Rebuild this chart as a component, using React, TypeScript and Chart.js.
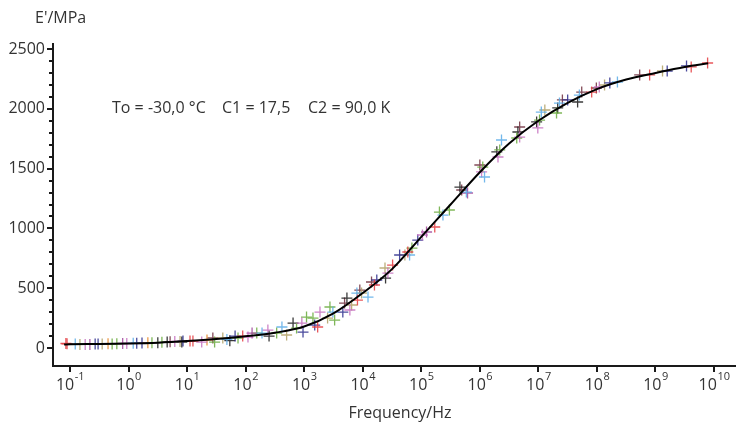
import React, { useEffect, useRef } from "react";
import { Chart, registerables } from "chart.js";

Chart.register(...registerables);

// Master curve (log10 frequency / E' in MPa)
const curveLogF = [-1.1, -1, -0.5, 0, 0.5, 1, 1.5, 2, 2.5, 3, 3.5, 4, 4.5, 5, 5.5, 6, 6.5, 7, 7.5, 8, 8.5, 9, 9.5, 9.9];
const curveE = [30, 32, 34, 38, 45, 58, 75, 98, 128, 180, 290, 460, 660, 930, 1200, 1470, 1710, 1900, 2050, 2165, 2245, 2300, 2350, 2380];

// Measured points, grouped by marker colour (log10 frequency / E')
const redLogF = [-1.07, -1.05, 1.05, 1.10, 1.95, 3.23, 3.91, 4.20, 4.51, 4.77, 5.23, 7.91, 8.90, 9.61, 9.89];
const redE = [38, 35, 59, 59, 100, 176, 401, 527, 694, 803, 1012, 2140, 2283, 2350, 2383];

const lightBlueLogF = [-0.91, 0.08, 1.68, 2.28, 2.62, 3.49, 3.90, 4.09, 4.80, 5.37, 5.77, 6.08, 6.37, 7.05, 7.36, 7.70, 8.35];
const lightBlueE = [33, 40, 72, 125, 176, 301, 460, 426, 778, 1112, 1304, 1430, 1739, 1973, 2048, 2115, 2224];

const pinkLogF = [-0.74, -0.03, 0.79, 1.25, 2.04, 2.38, 2.96, 3.27, 3.78, 4.43, 5.02, 6.03, 6.31, 6.68, 6.99, 8.04];
const pinkE = [30, 38, 55, 50, 92, 150, 209, 301, 318, 627, 945, 1472, 1597, 1764, 1840, 2182];

const magentaLogF = [-0.66, -0.10, 2.11, 5.09, 5.79];
const magentaE = [30, 38, 125, 970, 1296];

const navyLogF = [-0.57, -0.52, 0.14, 0.23, 0.93, 1.82, 2.98, 3.18, 3.66, 4.24, 4.63, 4.94, 7.50, 8.22, 9.20, 9.53];
const navyE = [33, 33, 40, 42, 58, 100, 134, 192, 301, 569, 778, 903, 2074, 2216, 2316, 2358];

const greenLogF = [-0.28, -0.20, 0.40, 0.57, 1.47, 1.87, 2.19, 2.53, 2.87, 3.04, 3.15, 3.44, 3.52, 4.84, 5.31, 5.48, 6.05, 6.34, 6.63, 7.02, 7.31];
const greenE = [33, 35, 45, 48, 50, 84, 125, 125, 167, 259, 251, 343, 234, 836, 1137, 1154, 1513, 1656, 1756, 1906, 1965];

const khakiLogF = [-0.83, -0.45, 0.88, 1.61, 2.70, 3.40, 3.81, 3.98, 4.38, 4.72, 7.11, 8.13, 9.12];
const khakiE = [30, 33, 55, 84, 109, 251, 360, 460, 669, 778, 1990, 2199, 2316];

const orangeLogF = [-0.35, 0.33, 1.34];
const orangeE = [35, 45, 67];

const blackLogF = [0.50, 0.66, 0.91, 1.73, 2.40, 2.81, 3.73, 4.39, 5.66, 6.29, 6.65, 6.97, 7.33, 7.67];
const blackE = [45, 50, 50, 62, 100, 209, 418, 585, 1346, 1640, 1806, 1890, 2007, 2057];

const maroonLogF = [0.71, 1.44, 3.69, 3.95, 4.15, 5.69, 6.00, 6.68, 7.41, 7.74, 7.99, 8.73];
const maroonE = [52, 85, 376, 485, 552, 1321, 1530, 1848, 2074, 2140, 2174, 2283];

const xDecades = [-1, 0, 1, 2, 3, 4, 5, 6, 7, 8, 9, 10];
const yTickValues = [0, 500, 1000, 1500, 2000, 2500];
const annotationTexts = ["To = -30,0 °C", "C1 = 17,5", "C2 = 90,0 K"];

const toPoints = (logF: number[], e: number[]) => logF.map((lf, i) => ({ x: Math.pow(10, lf), y: e[i] }));

const FONT = '"Open Sans", "DejaVu Sans", sans-serif';
const TEXT = "#333333";

const overlay = {
  id: "overlay",
  afterDraw(chart: any) {
    const { ctx, chartArea } = chart;
    const xs = chart.scales.x;
    const ys = chart.scales.y;
    const { left, right, top, bottom } = chartArea;
    ctx.save();
    ctx.strokeStyle = "#1a1a1a";
    ctx.lineWidth = 2;
    ctx.beginPath();
    ctx.moveTo(left, top);
    ctx.lineTo(left, bottom);
    ctx.lineTo(right, bottom);
    ctx.stroke();
    for (let v = 0; v <= 2500; v += 100) {
      const y = Math.round(ys.getPixelForValue(v));
      const major = v % 500 === 0;
      ctx.beginPath();
      ctx.moveTo(left - (major ? 6 : 4), y);
      ctx.lineTo(left, y);
      ctx.stroke();
    }
    for (const d of xDecades) {
      const x = Math.round(xs.getPixelForValue(Math.pow(10, d)));
      ctx.beginPath();
      ctx.moveTo(x, bottom);
      ctx.lineTo(x, bottom + 6);
      ctx.stroke();
    }
    ctx.fillStyle = TEXT;
    ctx.font = `16px ${FONT}`;
    ctx.textAlign = "right";
    ctx.textBaseline = "middle";
    for (const v of yTickValues) {
      ctx.fillText(String(v), left - 8, ys.getPixelForValue(v));
    }
    for (const d of xDecades) {
      const x = xs.getPixelForValue(Math.pow(10, d));
      const exp = d < 0 ? "-" + Math.abs(d) : String(d);
      ctx.font = `16px ${FONT}`;
      const wBase = ctx.measureText("10").width;
      ctx.font = `11px ${FONT}`;
      const wExp = ctx.measureText(exp).width;
      const start = x - (wBase + wExp) / 2;
      ctx.textAlign = "left";
      ctx.textBaseline = "middle";
      ctx.font = `16px ${FONT}`;
      ctx.fillText("10", start, 385);
      ctx.font = `11px ${FONT}`;
      ctx.fillText(exp, start + wBase + 0.5, 377);
    }
    ctx.font = `16px ${FONT}`;
    ctx.textAlign = "center";
    ctx.textBaseline = "middle";
    ctx.fillText("Frequency/Hz", 400, 413);
    ctx.textAlign = "left";
    ctx.fillText("E'/MPa", 35, 18);
    const annX = [112, 222, 308];
    annotationTexts.forEach((t, i) => ctx.fillText(t, annX[i], 108));
    ctx.restore();
  },
};

export default function App() {
  const ref = useRef<HTMLCanvasElement | null>(null);
  useEffect(() => {
    document.body.style.margin = "0";
    const mk = (label: string, color: string, logF: number[], e: number[]) => ({
      label,
      data: toPoints(logF, e),
      pointStyle: "cross",
      pointRadius: 5.5,
      pointBorderWidth: 1.3,
      borderColor: color,
      backgroundColor: color,
      showLine: false,
      order: 1,
    });
    const chart = new Chart(ref.current as HTMLCanvasElement, {
      type: "scatter",
      data: {
        datasets: [
          {
            label: "master",
            data: toPoints(curveLogF, curveE),
            showLine: true,
            borderColor: "#000000",
            borderWidth: 2,
            pointRadius: 0,
            cubicInterpolationMode: "monotone",
            order: 0,
          } as any,
          mk("red", "rgba(228,58,62,0.85)", redLogF, redE),
          mk("lightBlue", "rgba(90,172,232,0.85)", lightBlueLogF, lightBlueE),
          mk("pink", "rgba(196,110,190,0.85)", pinkLogF, pinkE),
          mk("magenta", "rgba(160,70,155,0.85)", magentaLogF, magentaE),
          mk("navy", "rgba(42,44,140,0.85)", navyLogF, navyE),
          mk("green", "rgba(104,170,60,0.85)", greenLogF, greenE),
          mk("khaki", "rgba(176,160,100,0.85)", khakiLogF, khakiE),
          mk("orange", "rgba(232,136,44,0.85)", orangeLogF, orangeE),
          mk("black", "rgba(25,25,25,0.85)", blackLogF, blackE),
          mk("maroon", "rgba(110,45,60,0.85)", maroonLogF, maroonE),
        ] as any,
      },
      options: {
        animation: false,
        responsive: false,
        maintainAspectRatio: false,
        devicePixelRatio: 1,
        layout: { autoPadding: false, padding: { left: 53, top: 43, right: 0, bottom: 58 } },
        scales: {
          x: { type: "logarithmic", min: Math.pow(10, -1.29), max: Math.pow(10, 10.375), display: false },
          y: { type: "linear", min: -150, max: 2550, display: false },
        },
        plugins: { legend: { display: false }, tooltip: { enabled: false } },
      },
      plugins: [overlay],
    });
    return () => chart.destroy();
  }, []);
  return (
    <div style={{ position: "fixed", left: 0, top: 0, width: 736, height: 424, background: "#fff" }}>
      <canvas ref={ref} width={736} height={424} style={{ display: "block" }} />
    </div>
  );
}
